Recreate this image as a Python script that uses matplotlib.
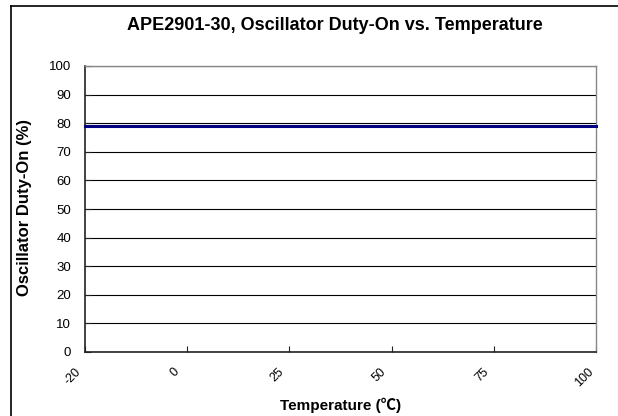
import matplotlib
matplotlib.use("Agg")
import matplotlib.pyplot as plt
from matplotlib.lines import Line2D
from matplotlib.transforms import ScaledTranslation

plt.rcParams['font.family'] = ['Liberation Sans', 'DejaVu Sans']

temps = ['-20', '0', '25', '50', '75', '100']
duty_on = [79, 79, 79, 79, 79, 79]
y_ticks = [0, 10, 20, 30, 40, 50, 60, 70, 80, 90, 100]

W, H = 618, 416
fig = plt.figure(figsize=(W/100, H/100), dpi=100)
# plot area in pixels: x 85..596, y 66..352
ax = fig.add_axes([85/W, 1-352/H, (596-85)/W, (352-66)/H])

x = range(len(temps))
ax.plot(x, duty_on, color='#000080', linewidth=2.2, clip_on=False, zorder=3)

ax.set_xlim(0, len(temps) - 1)
ax.set_ylim(0, 100)
ax.set_yticks(y_ticks)
ax.set_xticks(list(x))
ax.set_xticklabels(temps, rotation=45, ha='center', va='top')
ax.tick_params(axis='x', direction='in', length=4, labelsize=9, pad=10, color='#222222')
ax.tick_params(axis='y', direction='in', length=4, labelsize=9.5, pad=10, color='#222222')
shift = ScaledTranslation(-12/100, 0, fig.dpi_scale_trans)
for lbl in ax.get_xticklabels():
    lbl.set_transform(lbl.get_transform() + shift)
ax.yaxis.grid(True, color='black', linewidth=0.8)
ax.set_axisbelow(True)

for s in ['left', 'bottom']:
    ax.spines[s].set_color('#222222')
    ax.spines[s].set_linewidth(1.2)
for s in ['right', 'top']:
    ax.spines[s].set_color('#888888')
    ax.spines[s].set_linewidth(1.0)

fig.text(341/W, 1-405/H, 'Temperature (℃)', ha='center', va='center',
         fontsize=11, fontweight='bold', family=['Liberation Sans', 'Noto Sans CJK JP'])
fig.text(25/W, 1-208/H, 'Oscillator Duty-On (%)', ha='center', va='center',
         rotation=90, fontsize=12, fontweight='bold')
fig.text(335/W, 1-26/H, 'APE2901-30, Oscillator Duty-On vs. Temperature',
         ha='center', va='center', fontsize=13, fontweight='bold')

# outer frame (left and top only visible)
fig.add_artist(Line2D([11/W, 11/W], [0, 1-6/H], color='black', linewidth=1.2,
                      transform=fig.transFigure))
fig.add_artist(Line2D([11/W, 1], [1-6/H, 1-6/H], color='black', linewidth=1.2,
                      transform=fig.transFigure))

fig.savefig('out.png', dpi=100)
